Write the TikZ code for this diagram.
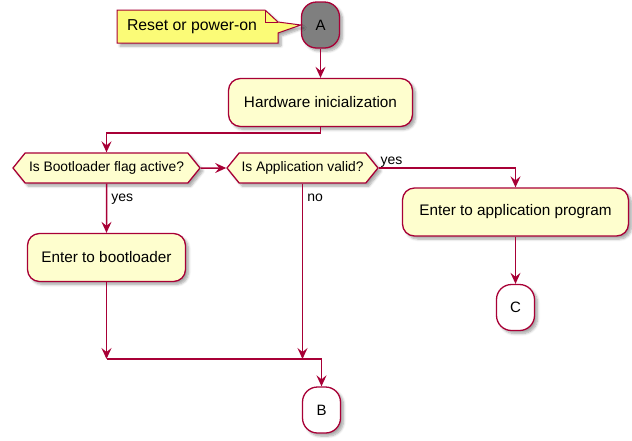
\documentclass[tikz,border=0pt]{standalone}
\usepackage{fontspec}
\setmainfont{Liberation Sans}
\usetikzlibrary{arrows.meta,shapes.symbols,shadows.blur}

\definecolor{umlborder}{HTML}{A80036}
\definecolor{umlfill}{HTML}{FEFECE}
\definecolor{notefill}{HTML}{FBFB77}
\definecolor{startfill}{HTML}{7F7F7F}

\tikzset{
  x=1pt, y=-1pt,
  softshadow/.style={blur shadow={shadow xshift=3pt, shadow yshift=-3pt,
      shadow blur steps=6, shadow blur radius=2.5pt, shadow opacity=35}},
  action/.style={draw=umlborder, fill=umlfill, line width=1.3pt,
      rounded corners=12pt, minimum height=48pt, inner xsep=0pt,
      font=\fontsize{15.3}{18}\selectfont, softshadow},
  decision/.style={signal, signal to=west and east, signal pointer angle=102,
      draw=umlborder, fill=umlfill, line width=1.3pt, minimum height=30pt,
      inner xsep=1pt, inner ysep=0pt, font=\fontsize{13.8}{16}\selectfont, softshadow},
  connector/.style={draw=umlborder, line width=1.3pt, rounded corners=15pt,
      minimum width=38pt, minimum height=46pt, inner sep=0pt,
      font=\fontsize{15}{18}\selectfont, softshadow},
  flow/.style={draw=umlborder, line width=1.5pt,
      -{Stealth[length=11pt,width=10pt,inset=4pt]}},
  wire/.style={draw=umlborder, line width=1.5pt},
  guard/.style={font=\fontsize{14}{16}\selectfont, inner sep=1pt},
}

\begin{document}
\begin{tikzpicture}
\useasboundingbox (0,0) rectangle (632,440);

% start connector and its note
\node[connector, fill=startfill] (A) at (320.5,25) {A};
\coordinate (nl) at (117,10);
\coordinate (nf) at (265,10);
\coordinate (nr) at (278,22);
\coordinate (nb) at (278,43);
\coordinate (np) at (278,33);
\fill[notefill, draw=umlborder, line width=1pt, softshadow]
  (nl) -- (nf) -- (nr) -- (A.west) -- (np) -- (nb) -- (nl |- nb) -- cycle;
\draw[umlborder, line width=1pt] (nf) -- (nf |- nr) -- (nr);
\node[font=\fontsize{15.8}{18}\selectfont, inner sep=0pt] (note) at (192,27) {Reset or power-on};

% actions
\node[action, minimum width=184pt] (hw) at (320.5,102.5) {Hardware inicialization};
\node[decision, minimum width=187pt] (d1) at (106.5,168) {Is Bootloader flag active?};
\node[decision, minimum width=151pt] (d2) at (302.5,168) {Is Application valid?};
\node[action, minimum width=226pt] (app) at (515.5,212) {Enter to application program};
\node[action, minimum width=158pt] (boot) at (106.5,257.5) {Enter to bootloader};
\node[connector, fill=white] (C) at (515.5,307.5) {C};
\node[connector, fill=white] (B) at (321.5,410) {B};

% helper points of the routing
\coordinate (j1) at (320.5,133);
\coordinate (m1) at (106.5,359);
\coordinate (m2) at (302.5,359);
\coordinate (m3) at (321.5,359);

% flows
\draw[flow] (A) -- (hw);
\draw[flow] (hw) -- (j1) -| (d1);
\draw[flow] (d1) -- (d2);
\draw[flow] (d2.east) -| (app) node[guard, pos=0, anchor=south west, yshift=-1pt] {yes};
\draw[flow] (d1) -- (boot) node[guard, pos=0, anchor=north west, xshift=3pt, yshift=-9pt] {yes};
\draw[flow] (app) -- (C);
\draw[flow] (boot) -- (m1);
\draw[flow] (d2) -- (m2) node[guard, pos=0, anchor=north west, xshift=3pt, yshift=-9pt] {no};
\draw[wire] (m1) -- (m3);
\draw[flow] (m3) -- (B);
\end{tikzpicture}
\end{document}
